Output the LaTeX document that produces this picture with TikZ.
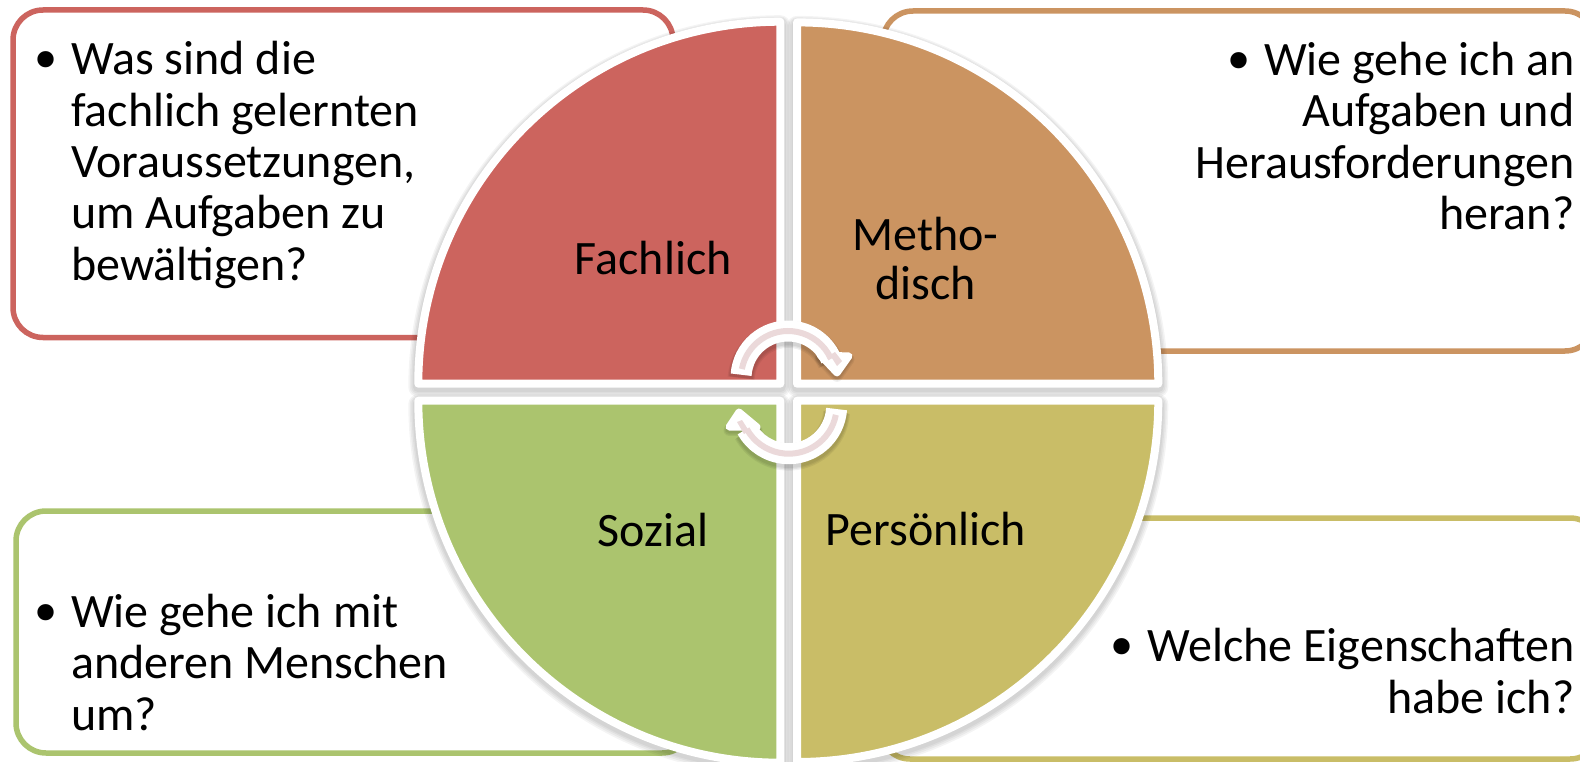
\documentclass[tikz,border=0pt]{standalone}
\usepackage{fontspec}
\setmainfont{Carlito}
\newfontfamily\bulletfont{DejaVu Sans}
\definecolor{cred}{HTML}{CC645E}
\definecolor{corange}{HTML}{CB9461}
\definecolor{cgreen}{HTML}{ABC46E}
\definecolor{cyellow}{HTML}{C9BD67}
\definecolor{cpink}{HTML}{EBD9DA}
\newcommand{\bul}{\raisebox{-6pt}{\bulletfont\fontsize{56}{51.3}\selectfont •}}
\newcommand{\leftbul}{\llap{\bul\hspace{9pt}}}
\newcommand{\rightbul}{\bul\hspace{9pt}}
% quadrant: corner x, corner y, start angle, end angle, radius, colour
\newcommand{\quadrant}[6]{%
  \foreach \w/\dy in {20/3.5,17/3.3,14/3,11/3}{%
    \draw[black,opacity=0.045,line width=\w pt,line join=round]
      (#1,#2+\dy) -- ++(#3:#5) arc[start angle=#3,end angle=#4,radius=#5] -- cycle;}%
  \draw[white,fill=#6,line width=8pt,line join=round]
      (#1,#2) -- ++(#3:#5) arc[start angle=#3,end angle=#4,radius=#5] -- cycle;}
\tikzset{
  textbox/.style={rounded corners=30pt,line width=5.5pt,fill=white},
  bodytext/.style={inner sep=0pt,font=\fontsize{48}{51.3}\selectfont,text=black},
  qlabel/.style={inner sep=0pt,font=\fontsize{48}{49.5}\selectfont,text=black,align=center},
}
\begin{document}
\begin{tikzpicture}[x=1pt,y=-1pt]
\useasboundingbox (0,0) rectangle (1580,762);
\clip (0,0) rectangle (1580,762);
\fill[white] (0,0) rectangle (1580,762);
% text boxes
\draw[textbox,draw=cred] (13,10) rectangle (673,337.5);
\draw[textbox,draw=corange] (883,11) rectangle (1595,351);
\draw[textbox,draw=cgreen] (16,511) rectangle (692,753);
\draw[textbox,draw=cyellow] (880,518) rectangle (1600,759);
% body text
\node[bodytext,anchor=base west,align=left] (t1) at (71,280) {\leftbul Was sind die\\fachlich gelernten\\Voraussetzungen,\\um Aufgaben zu\\bewältigen?};
\node[bodytext,anchor=base east,align=right] (t2) at (1574.5,229.5) {\rightbul Wie gehe ich an\\Aufgaben und\\Herausforderungen\\heran?};
\node[bodytext,anchor=base west,align=left] (t3) at (71,730) {\leftbul Wie gehe ich mit\\anderen Menschen\\um?};
\node[bodytext,anchor=base east,align=right] (t4) at (1574.5,713) {\rightbul Welche Eigenschaften\\habe ich?};
% quadrants
\quadrant{780.3}{383.7}{180}{270}{362}{cred}
\quadrant{797}{383.7}{270}{360}{361.3}{corange}
\quadrant{780.3}{400.7}{90}{180}{362}{cgreen}
\quadrant{797}{400.7}{0}{90}{361.3}{cyellow}
% labels
\node[qlabel,anchor=base] (q1) at (653.2,274) {Fachlich};
\node[qlabel,anchor=base] (q2) at (925.5,299.5) {Metho-\\disch};
\node[qlabel,anchor=base] (q3) at (652.8,546.5) {Sozial};
\node[qlabel,anchor=base] (q4) at (925.8,545.5) {Persönlich};
% upper circular arrow
\foreach \w/\dy in {27/3.4,25/3.1,23/2.8}{
  \draw[black,opacity=0.06,line width=\w pt] (788,378+\dy) ++(184:47) arc[start angle=184,end angle=336,radius=47];
  \draw[black,opacity=0.06,fill=black,line width=\w pt-16pt,line join=round] (837,373+\dy) -- (849,356+\dy) -- (820,355+\dy) -- cycle;
}
\draw[white,line width=21pt] (788,378) ++(184:47) arc[start angle=184,end angle=336,radius=47];
\draw[white,fill=white,line width=7pt,line join=round] (837,373) -- (849,356) -- (820,355) -- cycle;
\draw[cpink,line width=6pt] (788,378) ++(191:47) arc[start angle=191,end angle=336,radius=47];
\fill[cpink] (842,361) -- (837,366) -- (830,355) -- (835,352) -- cycle;
% lower circular arrow
\foreach \w/\dy in {27/3.4,25/3.1,23/2.8}{
  \draw[black,opacity=0.06,line width=\w pt] (788.7,405.7+\dy) ++(4:48) arc[start angle=4,end angle=151,radius=48];
  \draw[black,opacity=0.06,fill=black,line width=\w pt-16pt,line join=round] (739,412+\dy) -- (729,427+\dy) -- (757,427+\dy) -- cycle;
}
\draw[white,line width=21pt] (788.7,405.7) ++(4:48) arc[start angle=4,end angle=151,radius=48];
\draw[white,fill=white,line width=7pt,line join=round] (739,412) -- (729,427) -- (757,427) -- cycle;
\draw[cpink,line width=6pt] (788.7,405.7) ++(11:48) arc[start angle=11,end angle=151,radius=48];
\fill[cpink] (737,422) -- (742,420) -- (749,431) -- (744,434) -- cycle;
\end{tikzpicture}
\end{document}
